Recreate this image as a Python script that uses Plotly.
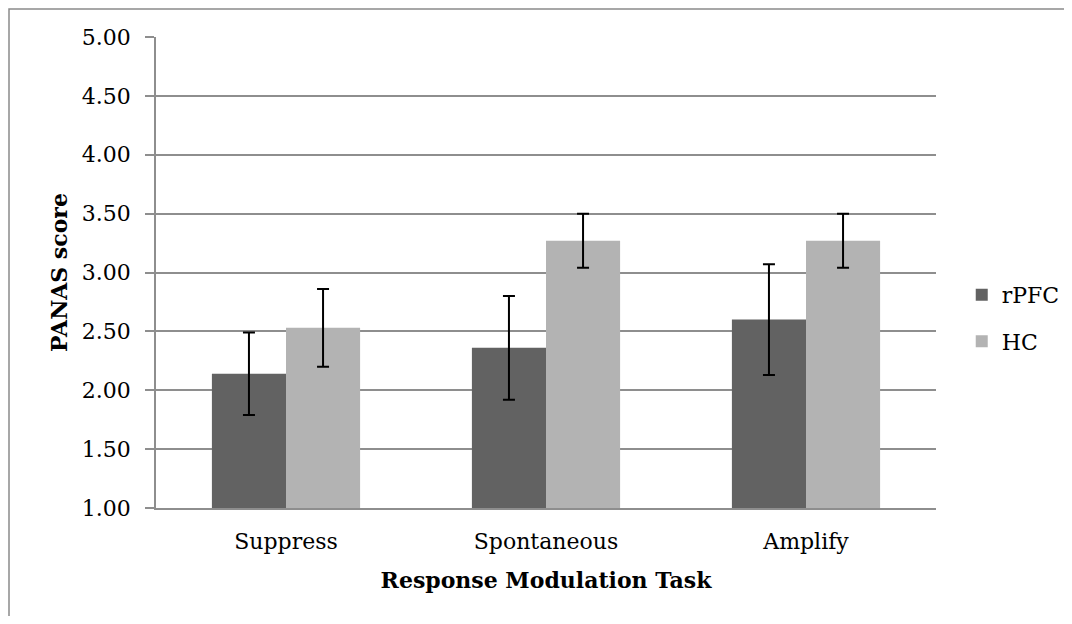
import plotly.graph_objects as go

categories = ["Suppress", "Spontaneous", "Amplify"]
rpfc_values = [2.14, 2.36, 2.60]
rpfc_errors = [0.35, 0.44, 0.47]
hc_values = [2.53, 3.27, 3.27]
hc_errors = [0.33, 0.23, 0.23]
y_ticks = [1.0, 1.5, 2.0, 2.5, 3.0, 3.5, 4.0, 4.5, 5.0]

FONT = "DejaVu Serif"
GRID = "#8e8e8e"

# page body has an 8px margin; figure fits inside the window without scrolling
W, H = 1056, 608
L, T = 148, 29
PW, PH = 780, 471.3

fig = go.Figure()
fig.add_trace(go.Bar(
    x=categories, y=rpfc_values, name="rPFC", legendgroup="a",
    marker=dict(color="#626262", line=dict(width=0)),
    error_y=dict(type="data", array=rpfc_errors, color="black", thickness=2, width=6),
))
fig.add_trace(go.Bar(
    x=categories, y=hc_values, name="HC", legendgroup="b",
    marker=dict(color="#b3b3b3", line=dict(width=0)),
    error_y=dict(type="data", array=hc_errors, color="black", thickness=2, width=6),
))

fig.update_layout(
    width=W, height=H, autosize=False,
    margin=dict(l=L, r=W - L - PW, t=T, b=H - T - PH, pad=0, autoexpand=False),
    paper_bgcolor="white", plot_bgcolor="white",
    barmode="group", bargap=0.43, bargroupgap=0,
    font=dict(family=FONT, size=22, color="black"),
    legend=dict(x=1.033, xanchor="left", y=0.4027, yanchor="middle",
                font=dict(family=FONT, size=22), tracegroupgap=15,
                traceorder="grouped", itemwidth=30, bgcolor="rgba(0,0,0,0)"),
    showlegend=True,
)
fig.update_yaxes(
    range=[1, 5], tickvals=y_ticks, tickformat=".2f",
    showgrid=True, gridcolor=GRID, gridwidth=1.5,
    showline=True, linecolor=GRID, linewidth=1.5,
    ticks="outside", ticklen=9, tickcolor=GRID, tickwidth=1.5,
    ticklabelstandoff=10, zeroline=False, automargin=False,
    title=dict(text="<b>PANAS score</b>", standoff=8, font=dict(family=FONT, size=22)),
)
fig.update_xaxes(
    showgrid=False, showline=True, linecolor=GRID, linewidth=1.5,
    ticks="", ticklabelstandoff=13, automargin=False,
    title=dict(text="<b>Response Modulation Task</b>", standoff=19, font=dict(family=FONT, size=22)),
)
bx = (1 - L) / PW
by = 1 + (T - 1) / PH
fig.add_shape(type="path", xref="paper", yref="paper",
              path=f"M {bx},-1 L {bx},{by} L 3,{by}",
              line=dict(color="#8a8a8a", width=1.5), layer="below")

fig.write_html("out.html")
